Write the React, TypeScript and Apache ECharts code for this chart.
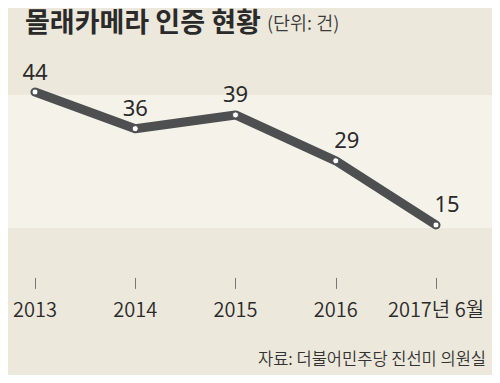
import React, { useEffect, useRef } from "react";
import * as echarts from "echarts";

const categories = ["2013", "2014", "2015", "2016", "2017년 6월"];
const values = [44, 36, 39, 29, 15];
const labelShiftX = [0, 0, 0, 11, 11];
const titleMain = "몰래카메라 인증 현황";
const titleUnit = "(단위: 건)";
const sourceText = "자료: 더불어민주당 진선미 의원실";

const FONT = "'Noto Sans CJK KR', 'Noto Sans', sans-serif";
const NUM_FONT = "'Noto Sans', 'Noto Sans CJK KR', sans-serif";

export default function App() {
  const ref = useRef<HTMLDivElement>(null);
  useEffect(() => {
    if (!ref.current) return;
    const chart = echarts.init(ref.current, null, { renderer: "svg" });
    chart.setOption({
      animation: false,
      backgroundColor: "#ede8dc",
      textStyle: { fontFamily: FONT },
      title: {
        left: 20,
        top: 2,
        text: `{a|${titleMain}} {b|${titleUnit}}`,
        textStyle: {
          rich: {
            a: { fontSize: 27, fontWeight: "bold", color: "#2a2a2a", fontFamily: FONT },
            b: {
              fontSize: 18.5,
              fontWeight: 350,
              color: "#3a3a3a",
              fontFamily: FONT,
              padding: [4, 0, 0, 2],
            },
          },
        },
      },
      graphic: [
        {
          type: "rect",
          z: -10,
          shape: { x: 0, y: 95, width: 500, height: 133 },
          style: { fill: "#f5f2ea" },
          silent: true,
        },
        {
          type: "rect",
          z: -10,
          shape: { x: 0, y: 375, width: 500, height: 8 },
          style: { fill: "#f4f1e8" },
          silent: true,
        },
        {
          type: "text",
          right: 14,
          top: 350,
          style: {
            text: sourceText,
            fontSize: 16.5,
            fontWeight: 350,
            fill: "#333",
            fontFamily: FONT,
          },
        },
      ],
      grid: {
        left: 35,
        right: 64,
        top: 64.5,
        bottom: 135.1,
        containLabel: false,
        outerBoundsMode: "none",
      },
      xAxis: {
        type: "category",
        data: categories,
        boundaryGap: false,
        offset: 30,
        axisLine: { show: false },
        axisTick: { show: true, interval: 0, length: 11, lineStyle: { color: "#777", width: 1 } },
        axisLabel: {
          interval: 0,
          margin: 21,
          fontSize: 20,
          fontWeight: 350,
          color: "#2a2a2a",
          fontFamily: FONT,
        },
        splitLine: { show: false },
      },
      yAxis: {
        type: "value",
        min: 10,
        max: 50,
        show: false,
        splitLine: { show: false },
      },
      series: [
        {
          type: "line",
          data: values.map((v, i) => ({
            value: v,
            label: { offset: [labelShiftX[i], 0] },
          })),
          symbol: "circle",
          symbolSize: 6,
          itemStyle: { color: "#ffffff", borderColor: "#4e4f51", borderWidth: 1 },
          lineStyle: { color: "#4e4f51", width: 9, cap: "round", join: "round" },
          label: {
            show: true,
            position: "top",
            distance: 7,
            fontSize: 22,
            fontWeight: 400,
            color: "#2a2a2a",
            fontFamily: NUM_FONT,
          },
        },
      ],
    });
    return () => chart.dispose();
  }, []);
  return <div ref={ref} style={{ width: 500, height: 383, margin: -8 }} />;
}
